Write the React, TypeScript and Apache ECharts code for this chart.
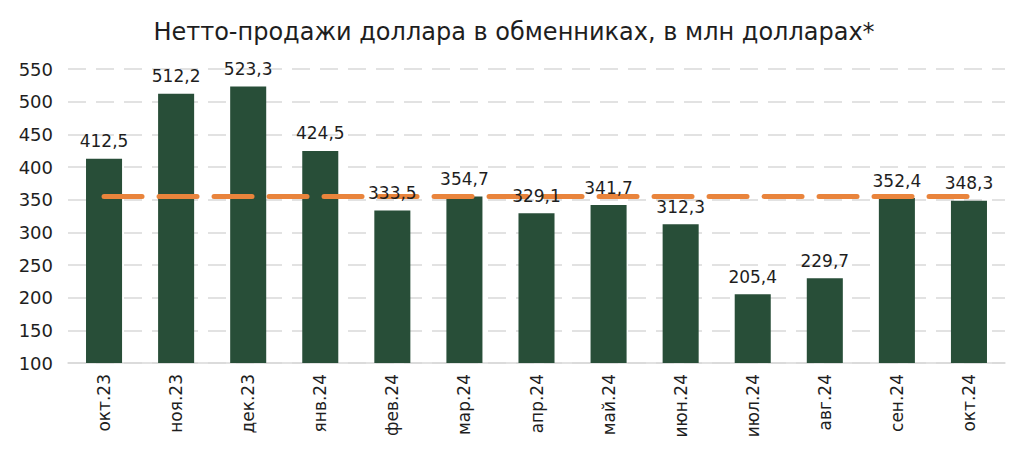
import React, { useEffect, useRef } from "react";
import * as echarts from "echarts";

const categories = ["окт.23", "ноя.23", "дек.23", "янв.24", "фев.24", "мар.24", "апр.24", "май.24", "июн.24", "июл.24", "авг.24", "сен.24", "окт.24"];
const sales = [412.5, 512.2, 523.3, 424.5, 333.5, 354.7, 329.1, 341.7, 312.3, 205.4, 229.7, 352.4, 348.3];
const average = [355, 355, 355, 355, 355, 355, 355, 355, 355, 355, 355, 355, 355];
const title = "Нетто-продажи доллара в обменниках, в млн долларах*";

const FONT = "DejaVu Sans";
const TXT = "#1e1e1e";

export default function App() {
  const ref = useRef<HTMLDivElement>(null);
  useEffect(() => {
    document.body.style.margin = "0";
    const chart = echarts.init(ref.current!, null, { renderer: "svg" });
    chart.setOption({
      animation: false,
      textStyle: { fontFamily: FONT },
      title: {
        text: title,
        left: "center",
        top: 15,
        textStyle: { fontFamily: FONT, fontSize: 24, fontWeight: "normal", color: TXT },
      },
      grid: { left: 68, right: 23, top: 69, bottom: 92 },
      xAxis: {
        type: "category",
        data: categories,
        axisTick: { show: false },
        axisLine: { show: true, lineStyle: { color: "#d9d9d9", width: 1.5 } },
        axisLabel: { rotate: 90, fontSize: 17, color: TXT, fontFamily: FONT, margin: 11 },
      },
      yAxis: {
        type: "value",
        min: 100,
        max: 550,
        interval: 50,
        axisLine: { show: false },
        axisTick: { show: false },
        axisLabel: { fontSize: 18, color: TXT, fontFamily: FONT, margin: 15 },
        splitLine: { lineStyle: { color: "#d9d9d9", width: 1.5, type: [18, 10] } },
      },
      series: [
        {
          type: "bar",
          data: sales,
          barWidth: "50%",
          itemStyle: { color: "#284e38" },
          z: 2,
        },
        {
          type: "line",
          data: average,
          symbol: "none",
          lineStyle: { color: "#e9843c", width: 5, type: [38, 17], cap: "round" },
          z: 3,
        },
        {
          type: "bar",
          data: sales,
          barWidth: "50%",
          barGap: "-100%",
          itemStyle: { color: "rgba(0,0,0,0)" },
          z: 4,
          label: {
            show: true,
            position: "top",
            distance: 9,
            fontSize: 17,
            color: TXT,
            fontFamily: FONT,
            formatter: (p: any) => String(p.value.toFixed(1)).replace(".", ","),
          },
        },
      ],
    });
    return () => chart.dispose();
  }, []);
  return <div ref={ref} style={{ width: 1028, height: 455 }} />;
}
